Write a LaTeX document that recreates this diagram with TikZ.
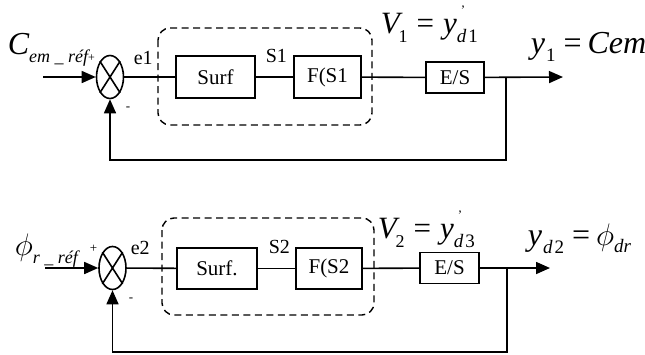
\documentclass[tikz,border=0pt]{standalone}
\usepackage{fontspec}
\setmainfont{Liberation Serif}
\usetikzlibrary{arrows.meta,shapes.geometric}
\newcommand{\fs}[1]{\fontsize{#1}{#1}\selectfont}
\newcommand{\lowr}[2]{\raisebox{-#1pt}{#2}}
\newcommand{\bigphi}[1]{\scalebox{#1}{\fs{20}$\phi$}}
\begin{document}
\begin{tikzpicture}[x=1pt,y=-1pt,
  line width=1.6pt,
  blk/.style={draw, line width=1.6pt, minimum height=42pt, inner sep=0pt, font=\fs{21}},
  sumj/.style={draw, ellipse, minimum width=27pt, minimum height=43pt, inner sep=0pt, line width=1.6pt},
  arr/.style={-{Triangle[length=14pt,width=12pt]}},
  grp/.style={draw, dash pattern=on 7pt off 4.5pt, rounded corners=12pt, line width=1.4pt},
  lbl/.style={inner sep=0pt, anchor=base west, font=\fs{20}},
  eq/.style={inner sep=0pt, anchor=base west},
]
\useasboundingbox (0,0) rectangle (645,354);

% ---------- top loop ----------
\draw[grp] (158,28) rectangle (372,125);
\node[sumj] (sum1) at (110,77) {};
\draw (sum1.north west) -- (sum1.south east) (sum1.north east) -- (sum1.south west);
\node[blk, minimum width=79pt] (surf1) at (215.5,77) {Surf};
\node[blk, minimum width=67pt] (f1) at (327.5,77) {F(S1};
\node[blk, minimum width=58pt, minimum height=31pt] (es1) at (455,77.5) {E/S};
\coordinate (in1) at (43,77);
\coordinate (br1) at (506,77);
\coordinate (out1) at (563,77);
\coordinate (fb1) at (506,160);
\draw[arr] (in1) -- (sum1);
\draw (sum1) -- (surf1);
\draw (surf1) -- (f1);
\draw (f1) -- (es1);
\draw[arr] (es1) -- (out1);
\draw[arr] (br1) -- (fb1) -| (sum1.south);

\node[eq] (cref) at (7,54) {\fs{32}\itshape C\lowr{8}{\fs{18}em \_ réf\raisebox{1pt}{\fs{12}\upshape +}}};
\node[lbl] (e1) at (133,64) {e1};
\node[lbl] (s1) at (265,62) {S1};
\node[lbl, font=\fs{13}] (m1) at (125,110) {-};
\node[eq] (v1) at (380,33) {\fs{31}\itshape V\hspace{-1pt}\lowr{9}{\fs{18}\upshape 1}\hspace{9pt}\upshape=\hspace{9pt}\itshape y\rlap{\hspace{4pt}\raisebox{19pt}{\fs{13}\upshape '}}\hspace{0pt}\lowr{9}{\fs{19}d\hspace{2pt}\upshape 1}};
\node[eq] (y1) at (530,53) {\fs{32}\itshape y\hspace{1pt}\lowr{8}{\fs{19}\upshape 1}\hspace{8pt}\upshape=\hspace{6pt}\itshape Cem};

% ---------- bottom loop ----------
\draw[grp] (162,218) rectangle (374,315);
\node[sumj] (sum2) at (112.5,268) {};
\draw (sum2.north west) -- (sum2.south east) (sum2.north east) -- (sum2.south west);
\node[blk, minimum width=80pt, minimum height=41pt] (surf2) at (217,268.5) {Surf.};
\node[blk, minimum width=66pt, minimum height=41pt] (f2) at (329,268.5) {F(S2};
\node[blk, minimum width=59pt, minimum height=31pt] (es2) at (449.5,268) {E/S};
\coordinate (in2) at (45,268);
\coordinate (br2) at (507,268);
\coordinate (out2) at (550,268);
\coordinate (fb2) at (507,352);
\draw[arr] (in2) -- (sum2);
\draw (sum2) -- (surf2);
\draw (surf2) -- (f2);
\draw (f2) -- (es2);
\draw[arr] (es2) -- (out2);
\draw[arr] (br2) -- (fb2) -| (sum2.south);

\node[eq] (phref) at (14,255) {\bigphi{1.5}\lowr{8}{\fs{18}\itshape r \_ réf}};
\node[eq, font=\fs{13}] (p2) at (89,252) {+};
\node[lbl] (e2) at (130,254) {e2};
\node[lbl] (s2) at (268,253) {S2};
\node[lbl, font=\fs{13}] (m2) at (128,301) {-};
\node[eq] (v2) at (377,238) {\fs{31}\itshape V\hspace{-1pt}\lowr{9}{\fs{18}\upshape 2}\hspace{9pt}\upshape=\hspace{9pt}\itshape y\rlap{\hspace{4pt}\raisebox{19pt}{\fs{13}\upshape '}}\hspace{0pt}\lowr{9}{\fs{19}d\hspace{2pt}\upshape 3}};
\node[eq] (y2) at (527,245) {\fs{32}\itshape y\hspace{1pt}\lowr{8}{\fs{19}d\hspace{2pt}\upshape 2}\hspace{8pt}\upshape=\hspace{6pt}\bigphi{1.5}\lowr{7}{\fs{19}\itshape dr}};
\end{tikzpicture}
\end{document}
